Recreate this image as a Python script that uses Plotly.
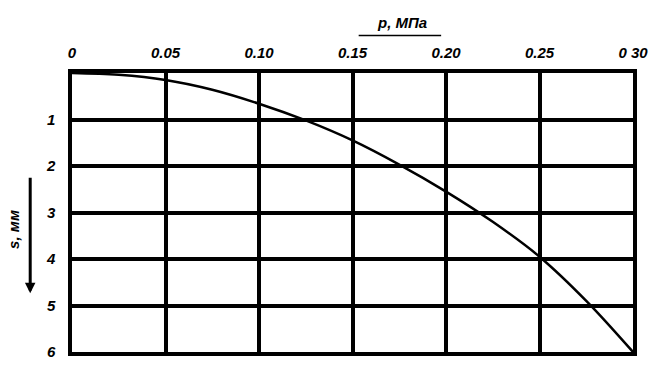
import plotly.graph_objects as go

# Data
pressure = [0, 0.025, 0.05, 0.075, 0.10, 0.125, 0.15, 0.175, 0.20, 0.225, 0.25, 0.275, 0.30]
settlement = [0, 0.04, 0.15, 0.36, 0.66, 1.02, 1.45, 1.97, 2.55, 3.2, 3.95, 4.9, 6.0]

x_ticks = [0, 0.05, 0.10, 0.15, 0.20, 0.25, 0.30]
x_tick_labels = ["0", "0.05", "0.10", "0.15", "0.20", "0.25", "0 30"]
y_ticks = [1, 2, 3, 4, 5, 6]
y_tick_labels = ["1", "2", "3", "4", "5", "6"]

FONT = dict(family="Liberation Sans, Arial, sans-serif", size=15, color="black",
            weight="bold", style="italic")

fig = go.Figure()
fig.add_trace(go.Scatter(
    x=pressure, y=settlement, mode="lines",
    line=dict(color="black", width=2.5, shape="spline", smoothing=1.0),
    showlegend=False, hoverinfo="skip",
))

fig.update_layout(
    width=660, height=372,
    margin=dict(l=72, r=24, t=73, b=15),
    paper_bgcolor="white", plot_bgcolor="white",
    font=FONT,
    xaxis=dict(
        side="top", range=[0, 0.30], tickvals=x_ticks, ticktext=x_tick_labels,
        showgrid=True, gridcolor="black", gridwidth=3.5,
        showline=True, linecolor="black", linewidth=3.5, mirror=True,
        zeroline=False, ticks="", ticklabelstandoff=5, tickfont=FONT,
        fixedrange=True,
    ),
    yaxis=dict(
        range=[6, 0], tickvals=y_ticks, ticktext=y_tick_labels,
        showgrid=True, gridcolor="black", gridwidth=3.5,
        showline=True, linecolor="black", linewidth=3.5, mirror=True,
        zeroline=False, ticks="", ticklabelstandoff=10, tickfont=FONT,
        fixedrange=True,
    ),
)

# x-axis title with underline
fig.add_annotation(xref="paper", yref="paper", x=0.588, y=1.18,
                   text="p, МПа", showarrow=False, font=FONT,
                   xanchor="center", yanchor="middle")
fig.add_shape(type="line", xref="paper", yref="paper",
              x0=0.511, x1=0.658, y0=1.134, y1=1.134,
              line=dict(color="black", width=1.5))

# y-axis title with downward arrow
fig.add_annotation(xref="paper", yref="paper", x=-0.104, y=0.44,
                   text="s, мм", showarrow=False, font=FONT, textangle=-90,
                   xanchor="center", yanchor="middle")
fig.add_annotation(xref="paper", yref="paper", x=-0.0745, y=0.211,
                   ax=0, ay=-117, text="", showarrow=True,
                   arrowhead=2, arrowsize=0.7, arrowwidth=3, arrowcolor="black")

fig.write_html("out.html")
